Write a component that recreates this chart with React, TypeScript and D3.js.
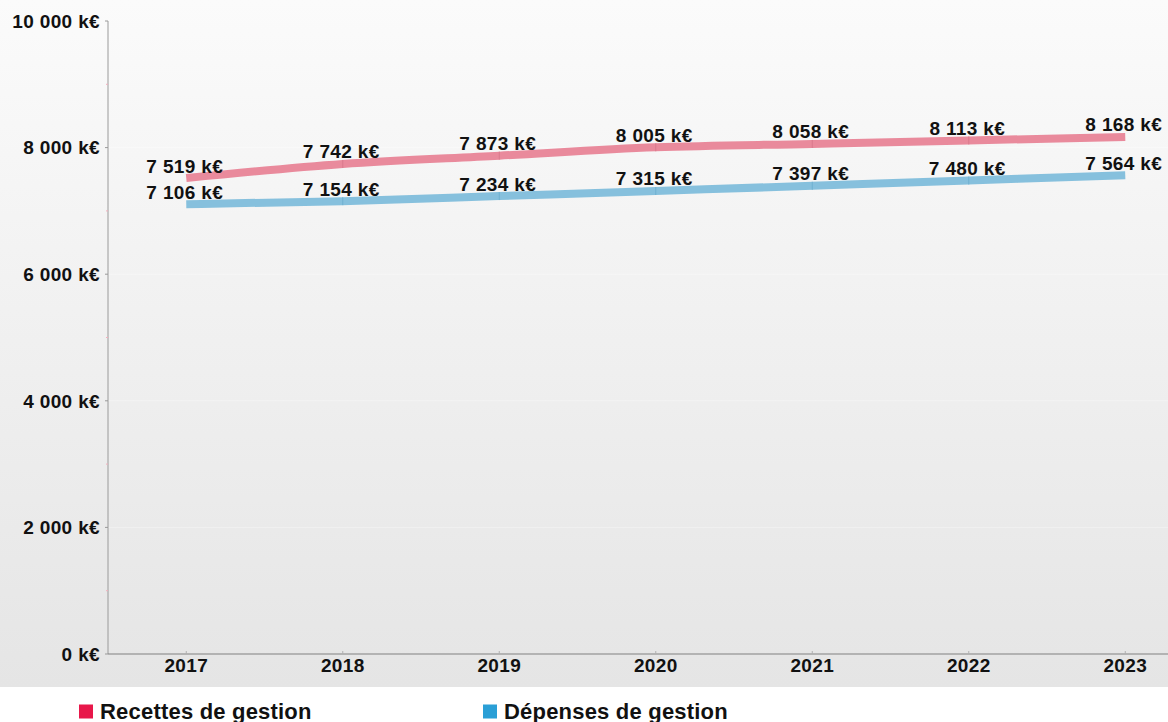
import React from "react";
import * as d3 from "d3";

const years = ["2017", "2018", "2019", "2020", "2021", "2022", "2023"];
const recettes = [7519, 7742, 7873, 8005, 8058, 8113, 8168];
const depenses = [7106, 7154, 7234, 7315, 7397, 7480, 7564];
const yTicks = [0, 2000, 4000, 6000, 8000, 10000];
const yMinorTicks = [1000, 3000, 5000, 7000, 9000];
const seriesNames = ["Recettes de gestion", "Dépenses de gestion"];

const W = 1168;
const H = 722;
const FONT = "'Liberation Sans', Arial, Helvetica, sans-serif";

const fmt = (v: number) => {
  const s = String(Math.round(v));
  return s.replace(/\B(?=(\d{3})+(?!\d))/g, " ") + " k€";
};

export default function App() {
  const left = 108;
  const step = 156.5;
  const x = d3
    .scaleBand<string>()
    .domain(years)
    .range([left, left + step * years.length])
    .padding(0);
  const cx = (d: string) => (x(d) as number) + x.bandwidth() / 2;
  const y = d3.scaleLinear().domain([0, 10000]).range([654, 21]);

  const line = d3
    .line<number>()
    .x((_, i) => cx(years[i]))
    .y((v) => y(v))
    .curve(d3.curveMonotoneX);

  const series = [
    { name: seriesNames[0], values: recettes, line: "#e98a9c", mark: "#d97a8c", legend: "#e8174a" },
    { name: seriesNames[1], values: depenses, line: "#86c0dd", mark: "#6fb0d0", legend: "#2a9fd6" },
  ];

  const fs = 19;
  const ls = 0.35;

  return (
    <div style={{ position: "fixed", left: 0, top: 0, width: W, height: H, background: "#fff" }}>
      <svg width={W} height={H} style={{ display: "block", fontFamily: FONT }}>
        <defs>
          <linearGradient id="bg" x1="0" y1="0" x2="0" y2="1">
            <stop offset="0" stopColor="#fbfbfb" />
            <stop offset="0.45" stopColor="#f1f1f1" />
            <stop offset="1" stopColor="#e5e5e5" />
          </linearGradient>
        </defs>
        <rect x={0} y={0} width={W} height={687} fill="url(#bg)" />

        {/* faint gridlines */}
        {yTicks.slice(1, -1).map((t) => (
          <line key={"g" + t} x1={left} x2={W} y1={y(t)} y2={y(t)} stroke="#ffffff" strokeOpacity={0.35} strokeWidth={1} />
        ))}

        {/* axes */}
        <line x1={left} x2={left} y1={y(10000)} y2={y(0)} stroke="#9a9a9a" strokeWidth={1} />
        <line x1={left} x2={W} y1={y(0)} y2={y(0)} stroke="#808080" strokeWidth={1.2} />
        {yTicks.map((t) => (
          <line key={"t" + t} x1={left - 3} x2={left} y1={y(t)} y2={y(t)} stroke="#9a9a9a" />
        ))}
        {yMinorTicks.map((t) => (
          <line key={"m" + t} x1={left - 2} x2={left} y1={y(t)} y2={y(t)} stroke="#f0b0bd" />
        ))}
        {years.map((yr) => (
          <line key={"xt" + yr} x1={cx(yr)} x2={cx(yr)} y1={y(0) - 3} y2={y(0)} stroke="#b0b0b0" />
        ))}

        {/* y labels */}
        {yTicks.map((t) => (
          <text key={"yl" + t} x={100} y={y(t) + 6.8} textAnchor="end" fontSize={fs} letterSpacing={ls} fontWeight="bold" fill="#111">
            {fmt(t)}
          </text>
        ))}

        {/* x labels */}
        {years.map((yr) => (
          <text key={"xl" + yr} x={cx(yr)} y={671.8} textAnchor="middle" fontSize={fs} letterSpacing={ls} fontWeight="bold" fill="#111">
            {yr}
          </text>
        ))}

        {/* lines */}
        {series.map((s) => (
          <g key={s.name}>
            <path d={line(s.values) || ""} fill="none" stroke={s.line} strokeWidth={8} strokeLinecap="butt" />
            {s.values.map((v, i) =>
              i > 0 && i < s.values.length - 1 ? (
                <line key={i} x1={cx(years[i])} x2={cx(years[i])} y1={y(v) - 4} y2={y(v) + 4} stroke={s.mark} strokeWidth={1} />
              ) : null
            )}
          </g>
        ))}

        {/* data labels */}
        {series.map((s) =>
          s.values.map((v, i) => (
            <text
              key={s.name + i}
              x={cx(years[i]) - 1.5}
              y={y(v) - 5.5}
              textAnchor="middle"
              fontSize={fs}
              letterSpacing={ls}
              fontWeight="bold"
              fill="#111"
            >
              {fmt(v)}
            </text>
          ))
        )}

        {/* legend */}
        {series.map((s, i) => {
          const lx = i === 0 ? 79 : 483;
          return (
            <g key={"lg" + i}>
              <rect x={lx} y={704.5} width={14} height={14} fill={s.legend} />
              <text x={lx + 21} y={718.5} fontSize={22} letterSpacing={0.2} fontWeight="bold" fill="#111">
                {s.name}
              </text>
            </g>
          );
        })}
      </svg>
    </div>
  );
}
